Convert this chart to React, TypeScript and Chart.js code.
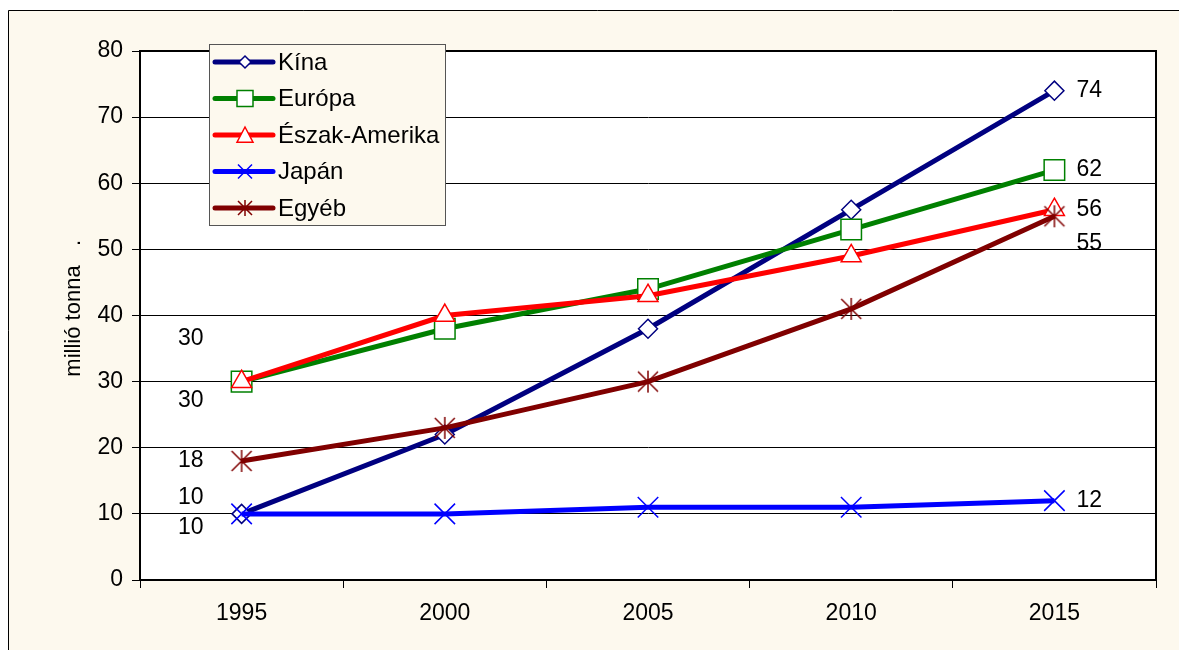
import React, { useEffect, useRef } from 'react';
import { Chart, registerables } from 'chart.js';

Chart.register(...registerables);

// ---- data ----
const years = ['1995', '2000', '2005', '2010', '2015'];
const seriesNames = ['Kína', 'Európa', 'Észak-Amerika', 'Japán', 'Egyéb'];
const kina = [10, 22, 38, 56, 74];
const europa = [30, 38, 44, 53, 62];
const eszakAmerika = [30, 40, 43, 49, 56];
const japan = [10, 10, 11, 11, 12];
const egyeb = [18, 23, 30, 41, 55];
const yMin = 0;
const yMax = 80;
const yStep = 10;
const yAxisTitle = 'millió tonna';

// ---- styling ----
const CREAM = '#FDF9EE';
const FONT = '"Liberation Sans", Arial, sans-serif';
const colors = ['#000080', '#008000', '#FF0000', '#0000FF', '#800000'];
const markerKinds = ['diamond', 'square', 'triangle', 'cross', 'asterisk'];
// label offsets (layout only): [dy at first point, dy at last point]
const startLabelDy = [-16, -43, 19, 14, 0];
const endLabelDy = [0, 0, 0, 0, 27];

function drawMarker(ctx: CanvasRenderingContext2D, kind: string, x: number, y: number, s: number, color: string) {
  ctx.save();
  ctx.strokeStyle = color;
  ctx.fillStyle = '#fff';
  ctx.lineWidth = 1.5;
  ctx.lineCap = 'butt';
  ctx.beginPath();
  if (kind === 'diamond') {
    ctx.moveTo(x - s, y); ctx.lineTo(x, y - s); ctx.lineTo(x + s, y); ctx.lineTo(x, y + s); ctx.closePath();
    ctx.fill(); ctx.stroke();
  } else if (kind === 'square') {
    ctx.rect(x - s, y - s, 2 * s, 2 * s);
    ctx.fill(); ctx.stroke();
  } else if (kind === 'triangle') {
    ctx.moveTo(x, y - s); ctx.lineTo(x + s, y + s * 0.9); ctx.lineTo(x - s, y + s * 0.9); ctx.closePath();
    ctx.fill(); ctx.stroke();
  } else if (kind === 'cross') {
    ctx.moveTo(x - s, y - s); ctx.lineTo(x + s, y + s); ctx.moveTo(x + s, y - s); ctx.lineTo(x - s, y + s);
    ctx.stroke();
  } else {
    ctx.moveTo(x - s, y - s); ctx.lineTo(x + s, y + s); ctx.moveTo(x + s, y - s); ctx.lineTo(x - s, y + s);
    ctx.moveTo(x, y - s - 1); ctx.lineTo(x, y + s + 1);
    ctx.stroke();
  }
  ctx.restore();
}

function makeMarkerCanvas(kind: string, color: string, s: number) {
  const c = document.createElement('canvas');
  const size = Math.ceil(2 * s + 6);
  c.width = size; c.height = size;
  const ctx = c.getContext('2d')!;
  drawMarker(ctx, kind, size / 2, size / 2, s, color);
  return c;
}

const chartPlugin = {
  id: 'excelLook',
  beforeDraw(chart: any) {
    const { ctx, chartArea: a, width, height } = chart;
    ctx.save();
    ctx.fillStyle = '#fff';
    ctx.fillRect(0, 0, width, height);
    ctx.fillStyle = CREAM;
    ctx.fillRect(0, 2, width, height);
    ctx.strokeStyle = '#000';
    ctx.lineWidth = 1;
    ctx.beginPath();
    ctx.moveTo(0.5, height);
    ctx.lineTo(0.5, 2.5);
    ctx.lineTo(width, 2.5);
    ctx.stroke();
    ctx.fillStyle = '#fff';
    ctx.fillRect(a.left, a.top, a.right - a.left, a.bottom - a.top);
    ctx.restore();
  },
  beforeDatasetsDraw(chart: any) {
    const { ctx, chartArea: a } = chart;
    ctx.save();
    ctx.strokeStyle = '#000';
    ctx.lineWidth = 2;
    ctx.strokeRect(a.left, a.top, a.right - a.left, a.bottom - a.top);
    ctx.restore();
  },
  afterDatasetsDraw(chart: any) {
    const { ctx } = chart;
    ctx.save();
    ctx.fillStyle = '#000';
    ctx.font = `23px ${FONT}`;
    ctx.textBaseline = 'middle';
    chart.data.datasets.forEach((ds: any, i: number) => {
      const meta = chart.getDatasetMeta(i);
      const first = meta.data[0];
      const last = meta.data[meta.data.length - 1];
      ctx.textAlign = 'right';
      ctx.fillText(String(ds.data[0]), first.x - 38, first.y + startLabelDy[i]);
      ctx.textAlign = 'left';
      ctx.fillText(String(ds.data[ds.data.length - 1]), last.x + 22, last.y + endLabelDy[i]);
    });
    ctx.restore();
  },
  afterDraw(chart: any) {
    const { ctx } = chart;
    ctx.save();
    // y axis title
    ctx.fillStyle = '#000';
    ctx.font = `22px ${FONT}`;
    ctx.textBaseline = 'alphabetic';
    ctx.textAlign = 'center';
    ctx.translate(72, 313);
    ctx.rotate(-Math.PI / 2);
    ctx.fillText(yAxisTitle, 0, 0);
    ctx.fillText('.', 78, 0);
    ctx.restore();

    // legend
    ctx.save();
    const lx = 201, ly = 36, lw = 236, lh = 181;
    ctx.fillStyle = CREAM;
    ctx.fillRect(lx, ly, lw, lh);
    ctx.strokeStyle = '#555';
    ctx.lineWidth = 1;
    ctx.strokeRect(lx + 0.5, ly + 0.5, lw, lh);
    const legendSizes = [6, 8, 8, 7, 7];
    seriesNames.forEach((name, i) => {
      const y = 54 + 36.5 * i;
      ctx.strokeStyle = colors[i];
      ctx.lineWidth = 5;
      ctx.lineCap = 'round';
      ctx.beginPath();
      ctx.moveTo(207, y);
      ctx.lineTo(265, y);
      ctx.stroke();
      drawMarker(ctx, markerKinds[i], 237, y, legendSizes[i], colors[i]);
      ctx.fillStyle = '#000';
      ctx.font = `24px ${FONT}`;
      ctx.textBaseline = 'middle';
      ctx.textAlign = 'left';
      ctx.fillText(name, 270, y + 1);
    });
    ctx.restore();
  },
};

export default function App() {
  const ref = useRef<HTMLCanvasElement | null>(null);

  useEffect(() => {
    document.body.style.overflow = 'hidden';
    const canvas = ref.current;
    if (!canvas) return;
    const allSeries = [kina, europa, eszakAmerika, japan, egyeb];
    const builtInStyles: any[] = ['rectRot', 'rect', 'triangle', 'crossRot', null];
    const pointRadii = [9.5, 14.5, 11.5, 14.5, 10];
    const datasets = allSeries.map((values, i) => ({
      label: seriesNames[i],
      data: values,
      borderColor: colors[i],
      backgroundColor: colors[i],
      borderWidth: 5,
      pointStyle: builtInStyles[i] || makeMarkerCanvas(markerKinds[i], colors[i], 10),
      pointRadius: pointRadii[i],
      pointBackgroundColor: '#fff',
      pointBorderColor: colors[i],
      pointBorderWidth: 1.5,
      tension: 0,
      order: allSeries.length - i,
    }));

    const chart = new Chart(canvas, {
      type: 'line',
      data: { labels: years, datasets },
      plugins: [chartPlugin],
      options: {
        animation: false,
        responsive: false,
        events: [],
        layout: { padding: { left: 32, top: 43, right: 31, bottom: 10 } },
        plugins: {
          legend: { display: false },
          tooltip: { enabled: false },
        },
        scales: {
          x: {
            type: 'category',
            offset: true,
            grid: { offset: true, drawOnChartArea: false, drawTicks: true, tickLength: 8, color: '#000', lineWidth: 1 },
            border: { color: '#000', width: 2 },
            ticks: { color: '#000', font: { family: FONT, size: 23 }, padding: 12, maxRotation: 0 },
            afterFit: (scale: any) => { scale.height = 60; },
          },
          y: {
            min: yMin,
            max: yMax,
            grid: { color: '#000', lineWidth: 1, tickLength: 8 },
            border: { color: '#000', width: 2 },
            ticks: { stepSize: yStep, color: '#000', font: { family: FONT, size: 23 }, padding: 9 },
            afterFit: (scale: any) => { scale.width = 100; },
          },
        },
      },
    });
    return () => chart.destroy();
  }, []);

  return (
    <canvas ref={ref} width={1179} height={642} style={{ display: 'block', width: 1179, height: 642 }} />
  );
}
